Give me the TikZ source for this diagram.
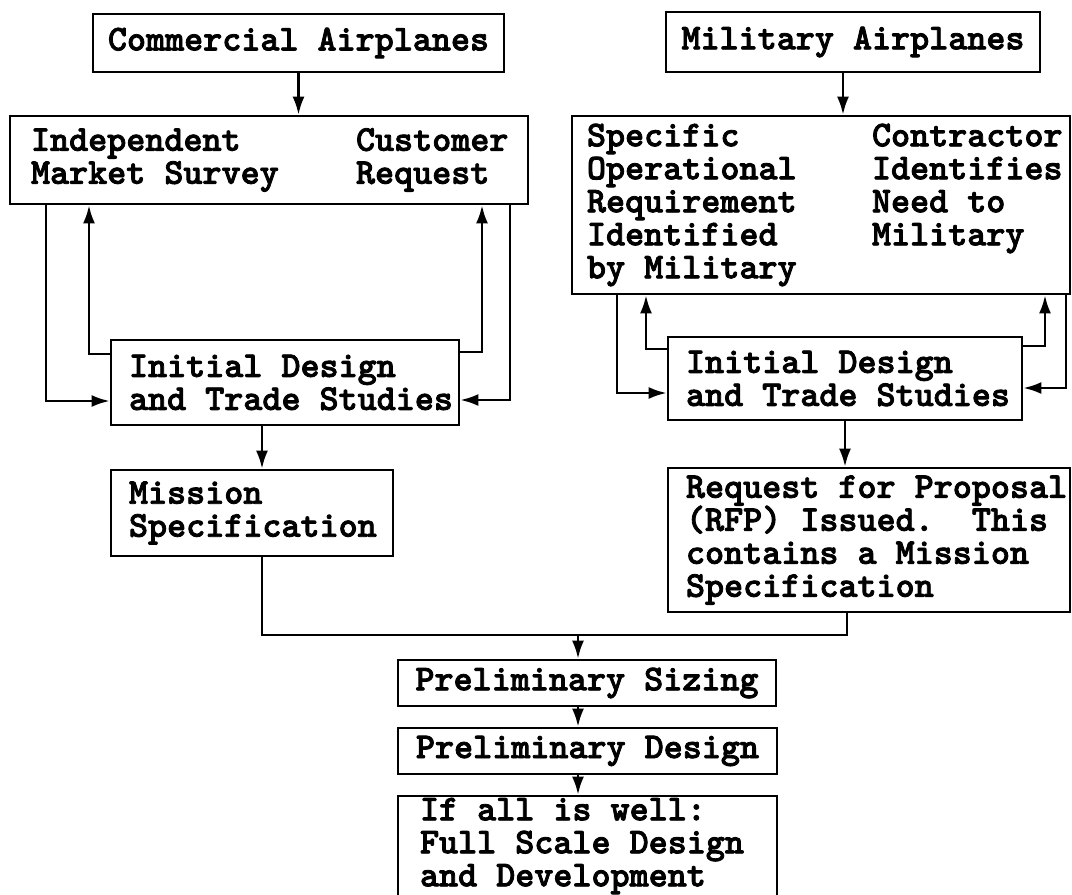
\documentclass[tikz,border=0pt]{standalone}
\usepackage{fontspec}
\newfontfamily\typew[FakeBold=2.2]{lmmonolt10-bold.otf}
\usetikzlibrary{arrows.meta}
\newcommand\boxfont{\typew\fontsize{36.3}{33}\selectfont}
\begin{document}
\begin{tikzpicture}[x=1pt,y=-1pt,
  box/.style={draw,line width=2.8pt,inner ysep=0pt,inner xsep=0pt,font=\boxfont,align=center},
  lbox/.style={box,align=flush left},
  conn/.style={line width=2.4pt,line join=miter},
  arr/.style={conn,-{Latex[length=18pt,width=12pt]}}]
\useasboundingbox (0,0) rectangle (1072,895);
% top boxes
\node[box,minimum width=411pt,minimum height=58pt] (com) at (298.5,43) {Commercial Airplanes};
\node[box,minimum width=374pt,minimum height=60pt] (mil) at (853,42) {Military Airplanes};
\node[lbox,minimum width=518pt,minimum height=88pt,text width=476pt] (ind) at (269,160)
  {\mbox{\makebox[325pt][l]{Independent}Customer}\\\mbox{\makebox[325pt][l]{Market Survey}Request}};
\node[lbox,minimum width=498pt,minimum height=178pt,text width=468pt] (spec) at (821,205)
  {\mbox{\makebox[285pt][l]{Specific}Contractor}\\
   \mbox{\makebox[285pt][l]{Operational}Identifies}\\
   \mbox{\makebox[285pt][l]{Requirement}Need to}\\
   \mbox{\makebox[285pt][l]{Identified}Military}\\
   \mbox{by Military}};
% initial design boxes
\node[lbox,minimum width=348pt,minimum height=85pt,text width=312pt] (initL) at (285,382.5)
  {\mbox{Initial Design}\\\mbox{and Trade Studies}};
\node[lbox,minimum width=354pt,minimum height=83pt,text width=318pt] (initR) at (845,378.5)
  {\mbox{Initial Design}\\\mbox{and Trade Studies}};
% mission boxes
\node[lbox,minimum width=282pt,minimum height=86pt,text width=246pt] (mis) at (252,513)
  {\mbox{Mission}\\\mbox{Specification}};
\node[lbox,minimum width=402pt,minimum height=144pt,text width=366pt] (rfp) at (869,540)
  {\mbox{Request for Proposal}\\\mbox{(RFP) Issued.\ \ This}\\\mbox{contains a Mission}\\\mbox{Specification}};
% bottom chain
\node[box,minimum width=378pt,minimum height=46pt] (siz) at (587,683) {Preliminary Sizing};
\node[box,minimum width=379pt,minimum height=46pt] (des) at (587.5,751) {Preliminary Design};
\node[lbox,minimum width=379pt,minimum height=100pt,text width=335pt] (fin) at (587.5,846)
  {\mbox{If all is well:}\\\mbox{Full Scale Design}\\\mbox{and Development}};
% bend coordinates
\coordinate (la) at (46,401);
\coordinate (lb) at (89,354);
\coordinate (lc) at (482,352);
\coordinate (ld) at (510,400);
\coordinate (ra) at (617,393);
\coordinate (rb) at (646,349);
\coordinate (rc) at (1045,346);
\coordinate (rd) at (1066,388);
\coordinate (ma) at (843,0);
\coordinate (jl) at (262,635);
\coordinate (jr) at (847,635);
\coordinate (jm) at (578,635);
% top arrows
\draw[arr] (com.south) -- (com.south |- ind.north);
\draw[arr] (mil.south -| ma) -- (spec.north -| ma);
% commercial loops
\draw[arr] (ind.south -| la) |- (initL.west |- la);
\draw[arr] (initL.west |- lb) -| (ind.south -| lb);
\draw[arr] (initL.east |- lc) -| (ind.south -| lc);
\draw[arr] (ind.south -| ld) |- (initL.east |- ld);
% military loops
\draw[arr] (spec.south -| ra) |- (initR.west |- ra);
\draw[arr] (initR.west |- rb) -| (spec.south -| rb);
\draw[arr] (initR.east |- rc) -| (spec.south -| rc);
\draw[arr] (spec.south -| rd) |- (initR.east |- rd);
% to mission specs
\draw[arr] (initL.south -| jl) -- (mis.north -| jl);
\draw[arr] (initR.south) -- (initR.south |- rfp.north);
% join
\draw[conn] (mis.south -| jl) -- (jl) -- (jr) -- (rfp.south -| jr);
\draw[arr] (jm) -- (siz.north -| jm);
\draw[arr] (siz.south -| jm) -- (des.north -| jm);
\draw[arr] (des.south -| jm) -- (fin.north -| jm);
\end{tikzpicture}
\end{document}
